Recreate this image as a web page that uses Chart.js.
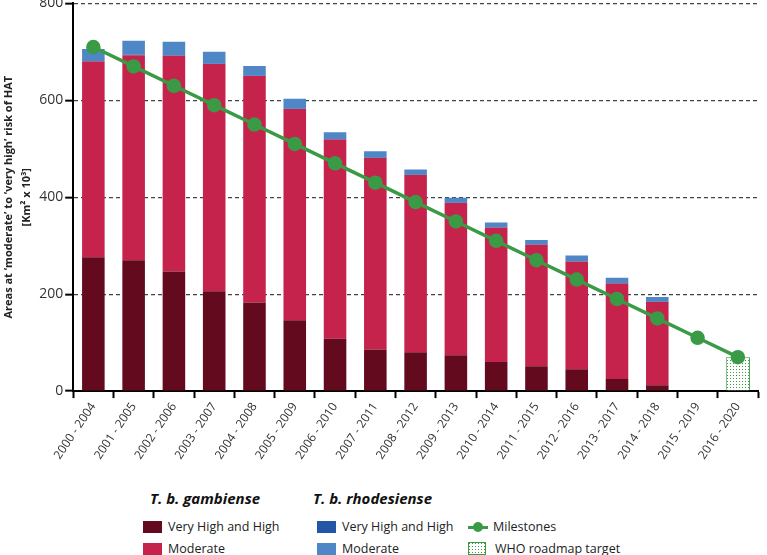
<!DOCTYPE html>
<html>
<head>
<meta charset="utf-8">
<script src="https://cdn.jsdelivr.net/npm/chart.js@4"></script>
<style>
    body { margin: 0; background: #fff; font-family: 'Open Sans', sans-serif; }
    #wrap { position: relative; width: 767px; height: 555px; overflow: hidden; }
    #box { position: absolute; left: 0; top: -7px; width: 767px; height: 471px; }
    .head { position: absolute; top: 488px; font-weight: bold; font-style: italic; font-size: 15px; color: #111; }
    .item { position: absolute; font-size: 12.5px; color: #222; line-height: 14px; }
    .sw { position: absolute; width: 19px; height: 12px; }
</style>
</head>
<body>
<div id="wrap">
    <div id="box"><canvas id="chart"></canvas></div>

    <div class="head" style="left:150px">T. b. gambiense</div>
    <div class="head" style="left:313px">T. b. rhodesiense</div>

    <div class="sw" style="left:143px;top:521px;background:#640a1e"></div>
    <div class="item" style="left:168px;top:520px">Very High and High</div>
    <div class="sw" style="left:143px;top:543px;background:#c5234b"></div>
    <div class="item" style="left:168px;top:542px">Moderate</div>

    <div class="sw" style="left:317px;top:521px;background:#2455a6"></div>
    <div class="item" style="left:342px;top:520px">Very High and High</div>
    <div class="sw" style="left:317px;top:543px;background:#4f86c6"></div>
    <div class="item" style="left:342px;top:542px">Moderate</div>

    <div style="position:absolute;left:468px;top:526px;width:20px;height:3px;background:#3a9a46"></div>
    <div style="position:absolute;left:473px;top:522px;width:10px;height:10px;border-radius:50%;background:#3a9a46"></div>
    <div class="item" style="left:493px;top:520px">Milestones</div>
    <canvas id="legendPattern" width="18" height="13" style="position:absolute;left:468px;top:542px"></canvas>
    <div class="item" style="left:495px;top:542px">WHO roadmap target</div>
</div>
<script>
const periods = ['2000 - 2004', '2001 - 2005', '2002 - 2006', '2003 - 2007', '2004 - 2008', '2005 - 2009',
    '2006 - 2010', '2007 - 2011', '2008 - 2012', '2009 - 2013', '2010 - 2014', '2011 - 2015',
    '2012 - 2016', '2013 - 2017', '2014 - 2018', '2015 - 2019', '2016 - 2020'];

// T. b. gambiense
const gambHigh = [276, 270, 247, 206, 183, 146, 108, 86, 80, 74, 60, 51, 45, 25, 12, null, null];
const gambModerate = [404, 423, 445, 469, 467, 436, 411, 395, 366, 314, 277, 251, 222, 197, 172, null, null];

// T. b. rhodesiense
const rhodHigh = [1, 1, 1, 1, 1, 1, 1, 1, 1, 1, 1, 1, 1, 1, 1, null, null];
const rhodModerate = [25, 29, 28, 24, 20, 20, 14, 13, 10, 10, 10, 9, 12, 11, 9, null, null];

const milestones = [710, 670, 630, 590, 550, 510, 470, 430, 390, 350, 310, 270, 230, 190, 150, 110, 70];
const roadmapTarget = [null, null, null, null, null, null, null, null, null, null, null, null, null, null, null, null, 70];

const yTicks = [0, 200, 400, 600, 800];

function makeDots (canvas) {
    const c = canvas || document.createElement('canvas');
    if (!canvas) { c.width = 3; c.height = 3; }
    const ctx = c.getContext('2d');
    ctx.fillStyle = '#ffffff';
    ctx.fillRect(0, 0, c.width, c.height);
    ctx.fillStyle = '#3a9a46';
    for (let x = 1; x < c.width; x += 3) {
        for (let y = 1; y < c.height; y += 3) {
            ctx.fillRect(x, y, 1, 1);
        }
    }
    return c;
}

const tile = makeDots();
const dotPattern = document.getElementById('chart').getContext('2d').createPattern(tile, 'repeat');

// legend swatch for the target
const lp = document.getElementById('legendPattern');
makeDots(lp);
const lctx = lp.getContext('2d');
lctx.strokeStyle = '#3a9a46';
lctx.strokeRect(0.5, 0.5, lp.width - 1, lp.height - 1);

const barOpts = { barPercentage: 0.56, categoryPercentage: 1, stack: 'a' };

new Chart(
    document.getElementById('chart'),
    {
        data: {
            labels: periods,
            datasets: [
                {
                    type: 'line',
                    data: milestones,
                    borderColor: '#3a9a46',
                    backgroundColor: '#3a9a46',
                    borderWidth: 3.5,
                    pointRadius: 5.5,
                    pointHoverRadius: 5.5,
                    order: 0
                },
                { type: 'bar', data: gambHigh, backgroundColor: '#640a1e', ...barOpts, order: 1 },
                { type: 'bar', data: gambModerate, backgroundColor: '#c5234b', ...barOpts, order: 1 },
                { type: 'bar', data: rhodHigh, backgroundColor: '#2455a6', ...barOpts, order: 1 },
                { type: 'bar', data: rhodModerate, backgroundColor: '#4f86c6', ...barOpts, order: 1 },
                {
                    type: 'bar',
                    data: roadmapTarget,
                    backgroundColor: dotPattern,
                    borderColor: '#3a9a46',
                    borderWidth: 1,
                    ...barOpts,
                    barPercentage: 0.6,
                    order: 1
                }
            ]
        },
        options: {
            responsive: true,
            maintainAspectRatio: false,
            animation: false,
            layout: {
                padding: { left: 0, right: 2, top: 0, bottom: 0 }
            },
            plugins: {
                legend: { display: false },
                tooltip: { enabled: false }
            },
            scales: {
                x: {
                    stacked: true,
                    grid: {
                        drawOnChartArea: false,
                        color: '#000',
                        tickLength: 7,
                        tickWidth: 2
                    },
                    border: { display: true, color: '#000', width: 2 },
                    ticks: {
                        color: '#333',
                        font: { family: 'Open Sans', size: 12 },
                        minRotation: 56,
                        maxRotation: 56,
                        padding: 2
                    }
                },
                y: {
                    stacked: true,
                    min: 0,
                    max: 800,
                    afterBuildTicks: (axis) => {
                        axis.ticks = yTicks.map(v => ({ value: v }));
                    },
                    grid: {
                        color: '#444',
                        lineWidth: 1.3,
                        tickColor: '#000',
                        tickWidth: 2,
                        tickLength: 8,
                        tickBorderDash: []
                    },
                    border: { display: true, color: '#000', width: 2, dash: [4, 3] },
                    ticks: {
                        color: '#333',
                        font: { family: 'Open Sans', size: 14 },
                        padding: 2
                    },
                    title: {
                        display: true,
                        text: ['Areas at \u2018moderate\u2019 to \u2018very high\u2019 risk of HAT', '[Km\u00b2 x 10\u00b3]'],
                        color: '#222',
                        font: { family: 'Open Sans', size: 11, weight: 'bold', lineHeight: 1.6 },
                        padding: { top: 0, bottom: 2 }
                    }
                }
            }
        }
    }
);
</script>
</body>
</html>
